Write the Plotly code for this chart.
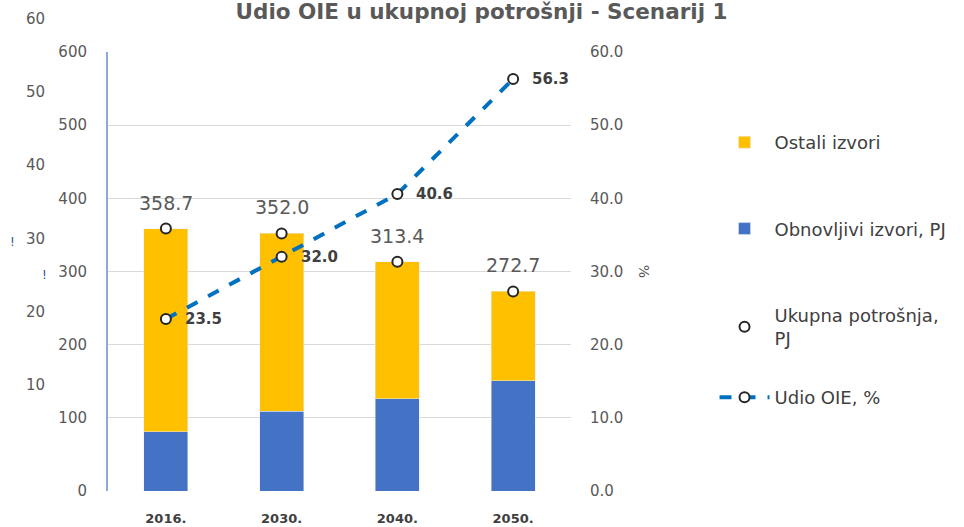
import plotly.graph_objects as go

categories = ["2016.", "2030.", "2040.", "2050."]
obnovljivi = [81.0, 109.0, 126.0, 151.0]
ukupno = [358.7, 352.0, 313.4, 272.7]
ostali = [round(t - o, 1) for t, o in zip(ukupno, obnovljivi)]
udio = [23.5, 32.0, 40.6, 56.3]
ghost_ticks = [60, 50, 40, 30, 20, 10]

FONT = "DejaVu Sans, sans-serif"
GRAY = "#595959"
xi = list(range(len(categories)))

fig = go.Figure()
fig.add_trace(go.Bar(x=xi, y=obnovljivi, name="Obnovljivi izvori, PJ",
                     marker_color="#4472C4", width=0.38, legendrank=2,
                     legendgroup="b"))
fig.add_trace(go.Bar(x=xi, y=ostali, name="Ostali izvori",
                     marker_color="#FFC000", width=0.38, legendrank=1,
                     legendgroup="a"))
fig.add_trace(go.Scatter(x=xi, y=ukupno, mode="markers",
                         name="Ukupna potrošnja,<br>PJ", legendrank=3, legendgroup="c",
                         marker=dict(symbol="circle", size=10, color="white",
                                     line=dict(color="#262626", width=2))))
fig.add_trace(go.Scatter(x=xi, y=udio, mode="lines+markers", yaxis="y2",
                         name="Udio OIE, %", legend="legend2",
                         line=dict(color="#0070C0", width=4, dash="dash"),
                         marker=dict(symbol="circle", size=10, color="white",
                                     line=dict(color="#262626", width=2))))

annotations = []
for i, t in zip(xi, ukupno):
    annotations.append(dict(x=i, y=t, xref="x", yref="y", text=f"{t:.1f}",
                            showarrow=False, yshift=26,
                            font=dict(family=FONT, size=19, color=GRAY)))
for i, u in zip(xi, udio):
    annotations.append(dict(x=i, y=u, xref="x", yref="y2", text=f"<b>{u:.1f}</b>",
                            showarrow=False, xanchor="left", xshift=17,
                            font=dict(family=FONT, size=15, color="#404040")))
for g in ghost_ticks:
    annotations.append(dict(x=-0.132, y=(g * 10 + 45) / 600, xref="paper", yref="paper",
                            text=str(g), showarrow=False, xanchor="right",
                            yanchor="middle",
                            font=dict(family=FONT, size=15, color=GRAY)))
for gx, gy in [(-0.207, 340), (-0.137, 295)]:
    annotations.append(dict(x=gx, y=gy / 600, xref="paper", yref="paper", text="!",
                            showarrow=False, xanchor="center", yanchor="middle",
                            font=dict(family=FONT, size=12, color="#2F5597")))
annotations.append(dict(x=1.181, y=30, xref="paper", yref="y2", text="%",
                        showarrow=False, textangle=90,
                        font=dict(family=FONT, size=14, color=GRAY)))

legend_style = dict(xanchor="left", yanchor="top", tracegroupgap=60, itemwidth=50,
                    font=dict(family=FONT, size=18, color="#404040"),
                    bgcolor="rgba(0,0,0,0)")

fig.update_layout(
    width=964, height=527,
    margin=dict(l=108, r=389, t=52, b=36),
    paper_bgcolor="white", plot_bgcolor="white",
    barmode="stack",
    title=dict(text="<b>Udio OIE u ukupnoj potrošnji - Scenarij 1</b>",
               x=0.4995, xanchor="center", y=0.978, yanchor="middle",
               font=dict(family=FONT, size=21.5, color=GRAY)),
    xaxis=dict(range=[-0.5, 3.5], tickvals=xi,
               ticktext=[f"<b>{c}</b>" for c in categories],
               tickfont=dict(family=FONT, size=13, color="#404040"),
               showline=False, showgrid=False, zeroline=False, ticks="",
               ticklabelstandoff=18, automargin=False),
    yaxis=dict(range=[0, 600], dtick=100, showgrid=True, gridcolor="#D9D9D9",
               gridwidth=1, showline=True, linecolor="#8EA9DB", linewidth=2,
               tickfont=dict(family=FONT, size=15, color=GRAY), zeroline=False,
               ticklabelstandoff=16, automargin=False),
    yaxis2=dict(range=[0, 60], dtick=10, overlaying="y", side="right",
                tickformat=".1f", showgrid=False, zeroline=False,
                tickfont=dict(family=FONT, size=15, color=GRAY),
                ticklabelstandoff=18, automargin=False),
    legend=dict(x=1.31, y=0.836, **legend_style),
    legend2=dict(x=1.31, y=0.255, **legend_style),
    annotations=annotations,
    showlegend=True,
)

fig.write_html("out.html", post_script="document.body.style.margin='0';",
               config={"displayModeBar": False})
